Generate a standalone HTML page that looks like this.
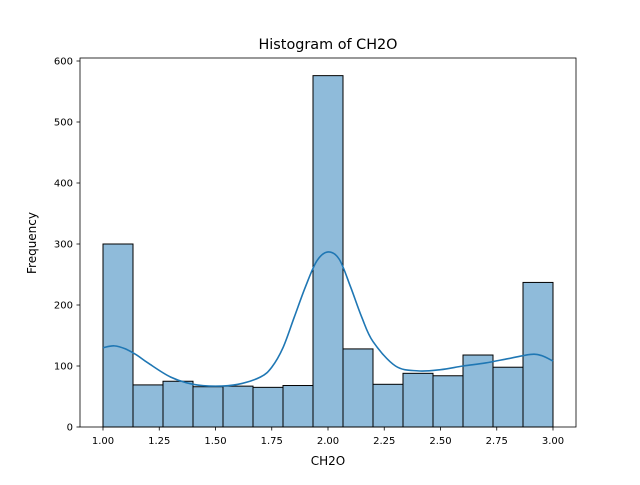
<!DOCTYPE html>
<html><head><meta charset="utf-8"><style>
body{margin:0;background:#fff;}
svg text{font-family:"DejaVu Sans","Liberation Sans",sans-serif;fill:#000;}
</style></head><body>
<svg id="chart" width="640" height="480" xmlns="http://www.w3.org/2000/svg">
<rect width="640" height="480" fill="#fff"/>
<text x="328" y="49" font-size="14.4" text-anchor="middle">Histogram of CH2O</text>
<g id="bars"></g>
<g id="kde"></g>
<rect x="80" y="58" width="496" height="369" fill="none" stroke="#000" stroke-width="0.8"/>
<g id="xt"></g>
<g id="yt"></g>
<text x="328" y="465" font-size="12" text-anchor="middle">CH2O</text>
<text transform="translate(36,243) rotate(-90)" font-size="12" text-anchor="middle">Frequency</text>
</svg>
<script>
const binCounts=[300,69,75,66,67,65,68,576,128,70,88,84,118,98,237];
const binStart=1.0, binEnd=3.0;
const xTicks=[1.00,1.25,1.50,1.75,2.00,2.25,2.50,2.75,3.00];
const yTicks=[0,100,200,300,400,500,600];
const kdeX=[1.0,1.05,1.1,1.15,1.2,1.3,1.4,1.5,1.6,1.7,1.75,1.8,1.85,1.9,1.95,2.0,2.05,2.1,2.15,2.2,2.3,2.4,2.5,2.6,2.7,2.8,2.9,2.95,3.0];
const kdeY=[130,133,128,118,105,82,70,67,70,82,98,130,180,230,272,287,275,230,180,140,100,92,94,100,105,112,119,117,108];
const NS="http://www.w3.org/2000/svg";
const X=v=>103+(v-1)*225, Y=v=>427-v*0.61;
function mk(t,a,p){const e=document.createElementNS(NS,t);for(const k in a)e.setAttribute(k,a[k]);p.appendChild(e);return e;}
const bw=(binEnd-binStart)/binCounts.length;
const bars=document.getElementById('bars');
binCounts.forEach((c,i)=>{const x0=X(binStart+i*bw),x1=X(binStart+(i+1)*bw);
const r=mk('rect',{x:x0,y:Y(c),width:x1-x0,height:Y(0)-Y(c),fill:'#8fbbda',stroke:'#000','stroke-width':1},bars);

});
const kde=document.getElementById('kde');
const P=kdeX.map((x,i)=>[X(x),Y(kdeY[i])]);
let d='M'+P[0][0]+','+P[0][1];
for(let i=0;i<P.length-1;i++){const p0=P[Math.max(i-1,0)],p1=P[i],p2=P[i+1],p3=P[Math.min(i+2,P.length-1)];
const c1=[p1[0]+(p2[0]-p0[0])/6,p1[1]+(p2[1]-p0[1])/6],c2=[p2[0]-(p3[0]-p1[0])/6,p2[1]-(p3[1]-p1[1])/6];
d+=' C'+c1.join(',')+' '+c2.join(',')+' '+p2.join(',');}
const path=mk('path',{d:d,fill:'none',stroke:'#1f77b4','stroke-width':1.6},kde);


const xt=document.getElementById('xt');
xTicks.forEach(v=>{mk('line',{x1:X(v),x2:X(v),y1:427,y2:430.5,stroke:'#000','stroke-width':0.8},xt);
const t=mk('text',{x:X(v),y:444,'font-size':10,'text-anchor':'middle'},xt);t.textContent=v.toFixed(2);

});
const yt=document.getElementById('yt');
yTicks.forEach(v=>{mk('line',{x1:76.5,x2:80,y1:Y(v),y2:Y(v),stroke:'#000','stroke-width':0.8},yt);
const t=mk('text',{x:73,y:Y(v)+3.5,'font-size':10,'text-anchor':'end'},yt);t.textContent=v;

});
</script>
</body></html>
